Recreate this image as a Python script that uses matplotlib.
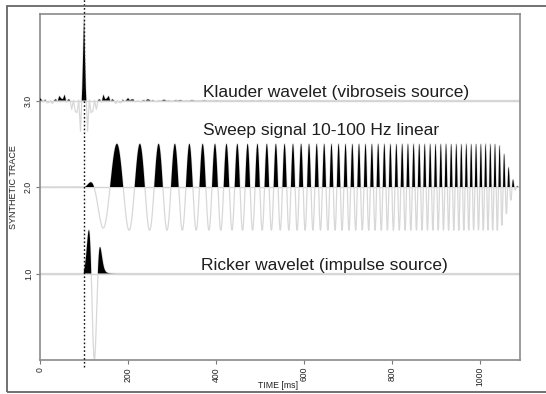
import numpy as np
import matplotlib
matplotlib.use("Agg")
import matplotlib.pyplot as plt
from matplotlib.patches import Rectangle

# ---------------- data ----------------
trace_names = ["Klauder wavelet (vibroseis source)",
               "Sweep signal 10-100 Hz linear",
               "Ricker wavelet (impulse source)"]
trace_baselines = [3.0, 2.0, 1.0]
label_x_ms = [371, 371, 365]
label_y = [3.04, 2.60, 1.04]

x_ticks = [0, 200, 400, 600, 800, 1000]
x_ticklabels = ["0", "200", "400", "600", "800", "1000"]
y_ticks = [1.0, 2.0, 3.0]
y_ticklabels = ["1.0", "2.0", "3.0"]

source_time_ms = 100
sweep_f_start_hz = 10
sweep_f_end_hz = 100
sweep_start_ms = 100
sweep_end_ms = 1088
sweep_taper_ms = 50
sweep_amplitude = 0.5
ricker_center_ms = 122
ricker_peak_hz = 30
ricker_phase_deg = -22
ricker_window_ms = 26
ricker_amplitude = -1.0
klauder_amplitude = 0.95
klauder_sample_ms = 4
time_max_ms = 1090
dt_ms = 0.5

# ---------------- synthetic traces ----------------
t = np.arange(0, time_max_ms + dt_ms, dt_ms)

# linear sweep
T = (sweep_end_ms - sweep_start_ms) / 1000.0
tau = (t - sweep_start_ms) / 1000.0
k = (sweep_f_end_hz - sweep_f_start_hz) / T
phase = 2 * np.pi * (sweep_f_start_hz * tau + 0.5 * k * tau ** 2)
inside = (t >= sweep_start_ms) & (t <= sweep_end_ms)
taper = np.ones_like(t)
tp = sweep_taper_ms / 1000.0
a = tau < tp
taper[a] = 0.5 * (1 - np.cos(np.pi * tau[a] / tp))
b = tau > T - tp
taper[b] = 0.5 * (1 - np.cos(np.pi * (T - tau[b]) / tp))
sweep = np.where(inside, np.cos(phase) * taper, 0.0)

# Klauder wavelet = autocorrelation of the sweep, shown at a coarse sample rate
s_only = sweep[inside]
ac = np.correlate(s_only, s_only, mode="full")
ac = ac / ac.max()
lags = (np.arange(ac.size) - (s_only.size - 1)) * dt_ms
step = int(round(klauder_sample_ms / dt_ms))
centre = s_only.size - 1
idx = np.arange(centre % step, ac.size, step)
t_kl = lags[idx] + source_time_ms
keep = (t_kl >= 0) & (t_kl <= time_max_ms)
t_kl = t_kl[keep]
klauder = klauder_amplitude * ac[idx][keep]

# Ricker wavelet (slightly phase rotated)
tr = (t - ricker_center_ms) / 1000.0
arg = (np.pi * ricker_peak_hz * tr) ** 2
ricker0 = (1 - 2 * arg) * np.exp(-arg)
spec = np.fft.fft(ricker0)
n = ricker0.size
h = np.zeros(n)
h[0] = 1
if n % 2 == 0:
    h[n // 2] = 1
    h[1:n // 2] = 2
else:
    h[1:(n + 1) // 2] = 2
analytic = np.fft.ifft(spec * h)
th = np.deg2rad(ricker_phase_deg)
ricker = np.real(analytic * np.exp(1j * th))
ricker *= np.exp(-0.5 * ((t - ricker_center_ms) / ricker_window_ms) ** 2)
ricker = ricker / np.max(np.abs(ricker)) * ricker_amplitude
ricker[t < source_time_ms] = 0.0

traces = [(t_kl, klauder), (t, sweep_amplitude * sweep), (t, ricker)]

# ---------------- figure ----------------
W, H = 546, 394
fig = plt.figure(figsize=(W / 100, H / 100), dpi=100)
ax = fig.add_axes([40 / W, (H - 360) / H, 480 / W, 346 / H])

for base in trace_baselines:
    ax.axhline(base, color="#d4d4d4", lw=1.0, zorder=1)

for (tt, vals), base in zip(traces, trace_baselines):
    y = base + vals
    ax.fill_between(tt, base, y, where=y > base, interpolate=True,
                    color="black", lw=0, zorder=3)
    ax.plot(tt, y, color="#d8d8d8", lw=0.9, zorder=2)

for name, xx, yy in zip(trace_names, label_x_ms, label_y):
    ax.text(xx, yy, name, fontsize=12.5, family="Liberation Sans",
            color="#1e1e1e", ha="left", va="baseline", zorder=4)

ax.plot([source_time_ms, source_time_ms], [-0.08, 4.17], color="#111111",
        lw=1.0, ls=(0, (1.2, 1.6)), clip_on=False, zorder=5)

ax.set_xlim(0, time_max_ms)
ax.set_ylim(0, 4.0)
ax.set_xticks(x_ticks)
ax.set_xticklabels(x_ticklabels, rotation=90, fontsize=6.2, family="Liberation Sans")
ax.set_yticks(y_ticks)
ax.set_yticklabels(y_ticklabels, rotation=90, fontsize=6.3, family="Liberation Sans",
                   va="center")
ax.tick_params(direction="out", length=3, width=0.8, color="#777777",
               labelcolor="#222222", pad=2)
for sp in ax.spines.values():
    sp.set_color("#8a8a8a")
    sp.set_linewidth(1.2)

fig.text(278 / W, 1 - 386 / H, "TIME [ms]", fontsize=6.3, family="Liberation Sans",
         color="#222222", ha="center", va="center")
ax.set_ylabel("SYNTHETIC TRACE", fontsize=6.5, family="Liberation Sans",
              color="#222222", labelpad=4)

fig.patches.append(Rectangle((7 / W, 2 / H), 1.2, (H - 8) / H,
                             transform=fig.transFigure, fill=False,
                             ec="#666666", lw=1.3))

fig.savefig("out.png", dpi=100, facecolor="white")
